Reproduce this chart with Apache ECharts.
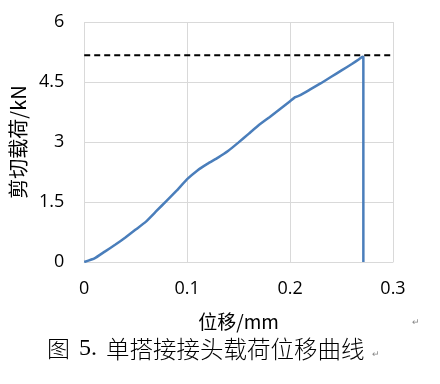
<!DOCTYPE html>
<html><head><meta charset="utf-8">
<script src="https://cdn.jsdelivr.net/npm/echarts@6/dist/echarts.min.js"></script>
<style>html,body{margin:0;padding:0;background:#fff}#c{width:440px;height:384px}</style>
</head><body><div id="c"></div>
<script>
const displacement = [0, 0.01, 0.02, 0.03, 0.04, 0.05, 0.06, 0.07, 0.08, 0.09, 0.10, 0.11, 0.12, 0.13, 0.14, 0.15, 0.16, 0.17, 0.18, 0.19, 0.20, 0.205, 0.21, 0.22, 0.23, 0.24, 0.25, 0.26, 0.267, 0.2705, 0.2712, 0.2712];
const load = [0, 0.09, 0.26, 0.43, 0.61, 0.81, 1.01, 1.27, 1.53, 1.79, 2.07, 2.29, 2.46, 2.61, 2.78, 2.99, 3.21, 3.43, 3.62, 3.82, 4.02, 4.12, 4.17, 4.32, 4.47, 4.63, 4.79, 4.95, 5.07, 5.13, 5.12, 0];
const peakLine = [[0, 5.17], [0.3, 5.17]];
const xTicks = [0, 0.1, 0.2, 0.3];
const yTicks = [0, 1.5, 3, 4.5, 6];
const xName = '位移/mm';
const yName = '剪切载荷/kN';
const captionLabel = '图';
const captionNum = '5.';
const captionText = '单搭接接头载荷位移曲线';

const chart = echarts.init(document.getElementById('c'));
const tickFont = {fontFamily: 'Open Sans, Liberation Sans, sans-serif', fontSize: 18, color: '#000'};
chart.setOption({
  animation: false,
  grid: {left: 78, right: 47, top: 22, bottom: 122, containLabel: false},
  xAxis: {
    type: 'value', min: 0, max: 0.3, interval: 0.1,
    name: xName, nameLocation: 'middle', nameGap: 50,
    nameTextStyle: {fontFamily: 'Noto Sans CJK SC', fontSize: 19, color: '#000'},
    axisLine: {show: true, lineStyle: {color: '#d9d9d9', width: 1}},
    axisTick: {show: false},
    axisLabel: Object.assign({margin: 18, formatter: v => xTicks.includes(+v.toFixed(2)) ? String(+v.toFixed(2)) : ''}, tickFont),
    splitLine: {show: true, lineStyle: {color: '#d9d9d9', width: 1}}
  },
  yAxis: {
    type: 'value', min: 0, max: 6, interval: 1.5,
    name: yName, nameLocation: 'middle', nameGap: 42, nameRotate: 90,
    nameTextStyle: {fontFamily: 'Noto Sans CJK SC', fontSize: 20, color: '#000', padding: [0, 0, 8, 0]},
    axisLine: {show: false},
    axisTick: {show: false},
    axisLabel: Object.assign({margin: 20, formatter: v => yTicks.includes(v) ? String(v) : ''}, tickFont),
    splitLine: {show: true, lineStyle: {color: '#d9d9d9', width: 1}}
  },
  series: [
    {type: 'line', data: peakLine, symbol: 'none', silent: true,
     lineStyle: {color: '#000', width: 2, type: [6, 4]}, z: 3},
    {type: 'line', data: displacement.map((x, i) => [x, load[i]]), symbol: 'none', smooth: 0.1,
     lineStyle: {color: '#4a7ebb', width: 2.5}, z: 2}
  ],
  graphic: [
    {type: 'text', left: 47, top: 337, style: {text: captionLabel, font: '300 23px "Noto Sans CJK SC"', fill: '#000'}},
    {type: 'text', left: 79, top: 337, style: {text: captionNum, font: '24px "Liberation Serif"', fill: '#000'}},
    {type: 'text', left: 106, top: 337, style: {text: captionText, font: '300 23.5px "Noto Sans CJK SC"', fill: '#000'}},
    {type: 'text', left: 412, top: 318, style: {text: '↵', font: '9px sans-serif', fill: '#888'}},
    {type: 'text', left: 372, top: 350, style: {text: '↵', font: '9px sans-serif', fill: '#888'}}
  ]
});
</script></body></html>
